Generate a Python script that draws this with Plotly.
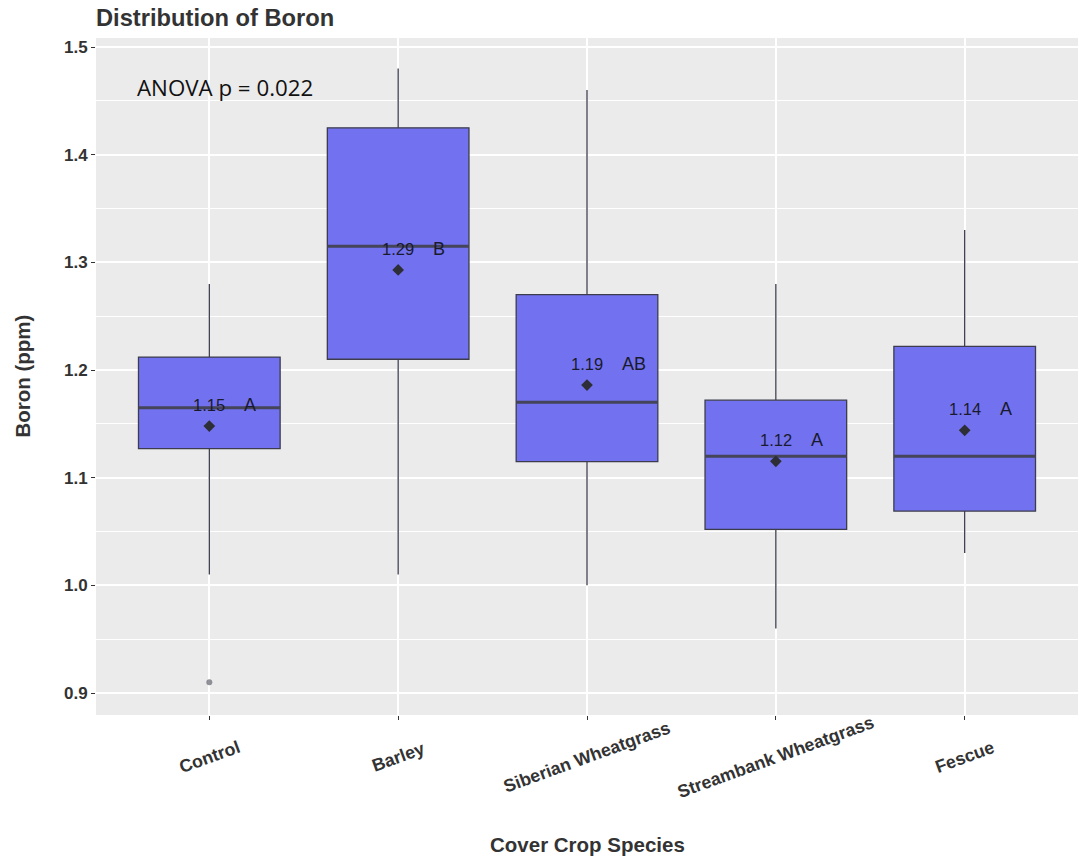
import plotly.graph_objects as go

categories = ["Control", "Barley", "Siberian Wheatgrass", "Streambank Wheatgrass", "Fescue"]
q1 = [1.127, 1.210, 1.115, 1.052, 1.069]
median = [1.165, 1.315, 1.170, 1.120, 1.120]
q3 = [1.212, 1.425, 1.270, 1.172, 1.222]
lower = [1.010, 1.010, 1.000, 0.960, 1.030]
upper = [1.280, 1.480, 1.460, 1.280, 1.330]
means = [1.148, 1.293, 1.186, 1.1152, 1.144]
mean_labels = ["1.15", "1.29", "1.19", "1.12", "1.14"]
letters = ["A", "B", "AB", "A", "A"]
outlier_cat = [0]
outlier_val = [0.91]
yticks = [0.9, 1.0, 1.1, 1.2, 1.3, 1.4, 1.5]

xpos = list(range(len(categories)))
BW = 0.75

fig = go.Figure()
fig.add_trace(go.Box(
    x=xpos, q1=q1, median=median, q3=q3, lowerfence=lower, upperfence=upper,
    width=BW, whiskerwidth=0, fillcolor="#7272F0",
    line=dict(color="#3c3c4c", width=1.3), boxpoints=False, hoverinfo="skip",
    showlegend=False))

# thick median lines
mx, my = [], []
for i, m in zip(xpos, median):
    mx += [i - BW / 2, i + BW / 2, None]
    my += [m, m, None]
fig.add_trace(go.Scatter(x=mx, y=my, mode="lines", line=dict(color="#45455a", width=3),
                         hoverinfo="skip", showlegend=False))

# outliers
fig.add_trace(go.Scatter(x=outlier_cat, y=outlier_val, mode="markers",
                         marker=dict(color="rgba(110,110,120,0.75)", size=6),
                         hoverinfo="skip", showlegend=False))

# means
fig.add_trace(go.Scatter(x=xpos, y=means, mode="markers",
                         marker=dict(symbol="diamond", color="#2e2e36", size=9),
                         hoverinfo="skip", showlegend=False))

annotations = []
for i, m, lab, let in zip(xpos, means, mean_labels, letters):
    annotations.append(dict(x=i, y=m + 0.0195, xref="x", yref="y", text=lab, showarrow=False,
                            font=dict(family="Liberation Sans", size=16.5, color="#1a1a2e"),
                            xanchor="center", yanchor="middle"))
    annotations.append(dict(x=i, y=m + 0.0195, xref="x", yref="y", text=let, showarrow=False,
                            font=dict(family="Liberation Sans", size=18, color="#1a1a2e"),
                            xanchor="center", yanchor="middle", xshift=41 if len(let) == 1 else 47))

for i, c in zip(xpos, categories):
    annotations.append(dict(x=i, y=0, xref="x", yref="paper", text=c, showarrow=False,
                            textangle=-20, yshift=-42, xanchor="center", yanchor="middle",
                            font=dict(family="Liberation Sans", size=17.8, color="#333333", weight="bold")))

annotations.append(dict(x=(135 - 96) / 983, y=1.462, xref="paper", yref="y", text="ANOVA p = 0.022",
                        showarrow=False, xanchor="left", yanchor="middle",
                        font=dict(family="Open Sans", size=22.3, color="#111111")))
annotations.append(dict(x=-0.0753, y=0.5, xref="paper", yref="paper", text="Boron (ppm)",
                        showarrow=False, textangle=-90, xanchor="center", yanchor="middle",
                        font=dict(family="Liberation Sans", size=20.5, color="#333333", weight="bold")))
annotations.append(dict(x=0.5, y=-0.192, xref="paper", yref="paper", text="Cover Crop Species",
                        showarrow=False, xanchor="center", yanchor="middle",
                        font=dict(family="Liberation Sans", size=20.5, color="#333333", weight="bold")))

fig.update_layout(
    width=1079, height=859,
    margin=dict(l=96, r=1, t=38, b=144),
    paper_bgcolor="white", plot_bgcolor="#EBEBEB",
    title=dict(text="Distribution of Boron", x=96 / 1079, xanchor="left", xref="container",
               y=1 - 18 / 859, yanchor="middle",
               font=dict(family="Liberation Sans", size=23.7, color="#333333", weight="bold")),
    annotations=annotations,
    showlegend=False,
)
fig.update_xaxes(range=[-0.6, 4.6], tickvals=xpos, showticklabels=False, showgrid=True,
                 gridcolor="white", gridwidth=1.5, zeroline=False, ticks="outside", ticklen=4,
                 tickcolor="#333333", showline=False)
fig.update_yaxes(range=[0.8796, 1.5084], tickvals=yticks, ticktext=[f"{v:.1f}" for v in yticks],
                 showgrid=True, gridcolor="white", gridwidth=1.5, zeroline=False,
                 ticks="outside", ticklen=4, tickcolor="#333333",
                 tickfont=dict(family="Liberation Sans", size=17, color="#333333", weight="bold"),
                 minor=dict(tickvals=[0.95, 1.05, 1.15, 1.25, 1.35, 1.45], showgrid=True,
                            gridcolor="white", gridwidth=0.7, ticks=""))

fig.write_html("out.html", config={"displayModeBar": False},
               post_script="document.body.style.margin='0px';document.body.style.overflow='hidden';")
